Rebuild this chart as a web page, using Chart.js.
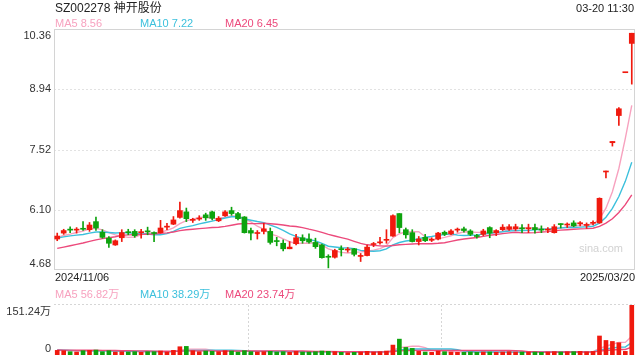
<!DOCTYPE html>
<html>
<head>
<meta charset="utf-8">
<script src="https://cdn.jsdelivr.net/npm/chart.js@4.4.1/dist/chart.umd.min.js"></script>
<style>
    body { margin: 0; background: #fff; }
    #wrap { position: relative; width: 640px; height: 360px; overflow: hidden;
            font-family: Arial, "Liberation Sans", "Noto Sans CJK SC", sans-serif; }
    #wrap canvas { position: absolute; left: 0; }
    .txt { position: absolute; white-space: nowrap; }
</style>
</head>
<body>
<div id="wrap">
    <canvas id="kline" width="640" height="290" style="top:0"></canvas>
    <canvas id="vol" width="640" height="70" style="top:290px"></canvas>

    <div class="txt" style="left:55px;top:1px;font-size:12px;line-height:14px;color:#222">SZ002278 神开股份</div>
    <div class="txt" style="right:6px;top:1px;font-size:11px;line-height:14px;color:#222">03-20 11:30</div>

    <div class="txt" style="left:55px;top:17px;font-size:11px;line-height:13px;color:#f7a2bf">MA5 8.56</div>
    <div class="txt" style="left:140px;top:17px;font-size:11px;line-height:13px;color:#3cc0dc">MA10 7.22</div>
    <div class="txt" style="left:225px;top:17px;font-size:11px;line-height:13px;color:#ec4a7c">MA20 6.45</div>

    <div class="txt" style="left:55px;top:288px;font-size:11px;line-height:13px;color:#f7a2bf">MA5 56.82万</div>
    <div class="txt" style="left:140px;top:288px;font-size:11px;line-height:13px;color:#3cc0dc">MA10 38.29万</div>
    <div class="txt" style="left:225px;top:288px;font-size:11px;line-height:13px;color:#ec4a7c">MA20 23.74万</div>
</div>
<script>
// trading days shown on the chart
const dates = [
    '2024/11/06','2024/11/07','2024/11/08','2024/11/11','2024/11/12','2024/11/13','2024/11/14','2024/11/15',
    '2024/11/18','2024/11/19','2024/11/20','2024/11/21','2024/11/22','2024/11/25','2024/11/26','2024/11/27',
    '2024/11/28','2024/11/29','2024/12/02','2024/12/03','2024/12/04','2024/12/05','2024/12/06','2024/12/09',
    '2024/12/10','2024/12/11','2024/12/12','2024/12/13','2024/12/16','2024/12/17','2024/12/18','2024/12/19',
    '2024/12/20','2024/12/23','2024/12/24','2024/12/25','2024/12/26','2024/12/27','2024/12/30','2024/12/31',
    '2025/01/02','2025/01/03','2025/01/06','2025/01/07','2025/01/08','2025/01/09','2025/01/10','2025/01/13',
    '2025/01/14','2025/01/15','2025/01/16','2025/01/17','2025/01/20','2025/01/21','2025/01/22','2025/01/23',
    '2025/01/24','2025/01/27','2025/02/05','2025/02/06','2025/02/07','2025/02/10','2025/02/11','2025/02/12',
    '2025/02/13','2025/02/14','2025/02/17','2025/02/18','2025/02/19','2025/02/20','2025/02/21','2025/02/24',
    '2025/02/25','2025/02/26','2025/02/27','2025/02/28','2025/03/03','2025/03/04','2025/03/05','2025/03/06',
    '2025/03/07','2025/03/10','2025/03/11','2025/03/12','2025/03/13','2025/03/14','2025/03/17','2025/03/18',
    '2025/03/19','2025/03/20'
];

const opens = [
    5.41,5.55,5.64,5.62,5.66,5.63,5.82,5.57,5.43,5.27, 5.44,5.58,5.59,5.56,5.60,5.56,5.56,5.69,5.76,5.92,
    6.05,5.85,5.88,5.98,6.05,5.84,5.96,6.08,6.01,5.93, 5.61,5.54,5.59,5.59,5.36,5.31,5.18,5.30,5.44,5.41,
    5.33,5.27,4.99,4.98,5.17,5.15,5.18,5.00,5.02,5.28, 5.32,5.38,5.48,6.01,5.63,5.56,5.35,5.45,5.38,5.41,
    5.57,5.53,5.62,5.65,5.60,5.49,5.52,5.68,5.56,5.63, 5.64,5.65,5.66,5.65,5.68,5.64,5.62,5.56,5.76,5.74,
    5.79,5.77,5.73,5.78,5.79,6.99,7.68,8.32,9.33,10.02
];
const highs = [
    5.55,5.64,5.70,5.68,5.82,5.80,5.93,5.63,5.47,5.39, 5.63,5.64,5.63,5.64,5.69,5.58,5.85,5.78,5.94,6.28,
    6.14,5.90,5.96,6.02,6.07,5.94,6.08,6.16,6.04,5.94, 5.67,5.61,5.78,5.67,5.45,5.39,5.35,5.52,5.51,5.53,
    5.43,5.29,5.04,5.17,5.25,5.21,5.19,5.07,5.27,5.33, 5.45,5.63,5.98,6.01,5.67,5.63,5.47,5.52,5.44,5.57,
    5.60,5.63,5.67,5.69,5.63,5.52,5.64,5.70,5.63,5.75, 5.75,5.76,5.75,5.76,5.76,5.72,5.68,5.75,5.77,5.79,
    5.84,5.82,5.79,5.84,6.38,7.01,7.71,8.51,9.33,10.26
];
const lows = [
    5.37,5.52,5.56,5.55,5.61,5.59,5.61,5.43,5.21,5.26, 5.35,5.51,5.45,5.43,5.51,5.35,5.55,5.63,5.75,5.90,
    5.82,5.80,5.85,5.85,5.86,5.82,5.94,5.97,5.86,5.55, 5.39,5.41,5.53,5.29,5.25,5.13,5.18,5.27,5.31,5.31,
    5.19,4.96,4.73,4.96,5.01,5.10,5.01,4.88,5.01,5.23, 5.29,5.31,5.47,5.56,5.43,5.34,5.27,5.35,5.35,5.39,
    5.49,5.51,5.57,5.57,5.49,5.43,5.49,5.44,5.49,5.61, 5.61,5.61,5.56,5.56,5.55,5.56,5.56,5.55,5.67,5.68,
    5.70,5.72,5.66,5.74,5.78,6.85,7.60,8.09,9.33,9.06
];
const closes = [
    5.48,5.61,5.62,5.63,5.64,5.74,5.67,5.45,5.31,5.37, 5.56,5.56,5.49,5.57,5.58,5.54,5.67,5.71,5.86,6.08,
    5.89,5.86,5.90,5.91,5.90,5.90,6.05,6.01,5.89,5.56, 5.55,5.55,5.65,5.33,5.35,5.18,5.22,5.44,5.37,5.34,
    5.23,4.97,4.98,5.14,5.16,5.16,5.05,5.02,5.22,5.29, 5.34,5.40,5.96,5.68,5.51,5.35,5.41,5.37,5.39,5.55,
    5.52,5.60,5.63,5.61,5.52,5.47,5.60,5.55,5.61,5.69, 5.70,5.70,5.65,5.66,5.63,5.62,5.63,5.70,5.75,5.76,
    5.72,5.78,5.74,5.79,6.37,7.01,7.71,8.48,9.33,10.26
];
// volume, in 万 shares
const volumes = [
    14,13,10,9,13,14,15,10,13,9, 10,9,10,8,10,10,12,9,14,25,
    26,13,10,12,11,10,13,12,9,13, 10,9,10,11,9,10,8,11,9,9,
    10,12,11,10,8,7,8,9,11,9, 10,12,30,48,23,20,11,9,8,12,
    10,9,8,8,9,8,9,9,8,9, 10,9,9,9,9,8,9,10,9,9.9,
    10,11,9.5,10.7,57.5,44,41,37,11,151.24
];
// closes / volumes of the 19 sessions before the window (feed the moving averages)
const preCloses = [5.02,4.98,4.96,5.00,4.97,4.98,4.88,4.86,4.90,4.95,5.30,5.38,5.45,5.50,5.42,5.40,5.46,5.43,5.48];
const preVolumes = [15,14,16,13,15,17,14,13,15,16,18,17,15,14,16,15,14,13,15];

const priceTicks = [4.68, 6.10, 7.52, 8.94, 10.36];

const UP = '#f0190e';
const DOWN = '#0ea30e';
const MA5_COLOR = '#f7a2bf';
const MA10_COLOR = '#3cc0dc';
const MA20_COLOR = '#ec4a7c';

function movingAvg(series, pre, n) {
    const all = pre.concat(series);
    return series.map((_, i) => {
        const end = pre.length + i + 1;
        return all.slice(end - n, end).reduce((s, v) => s + v, 0) / n;
    });
}

const candleColors = closes.map((c, i) => c >= opens[i] ? UP : DOWN);

function maLine(data, color, order) {
    return {
        type: 'line', data: data, borderColor: color, borderWidth: 1.4,
        pointRadius: 0, tension: 0, order: order
    };
}

const hiddenScales = (yMin, yMax) => ({
    x: { type: 'category', offset: true, display: false },
    y: { min: yMin, max: yMax, display: false }
});

// frame, dotted grid, watermark, axis labels of the price panel
const priceFrame = {
    id: 'priceFrame',
    beforeDatasetsDraw(chart) {
        const { ctx, chartArea: a, scales: { y } } = chart;
        ctx.save();
        ctx.strokeStyle = '#e2e2e2';
        ctx.lineWidth = 1;
        ctx.setLineDash([2, 2]);
        priceTicks.slice(1, -1).forEach(v => {
            const py = Math.round(y.getPixelForValue(v)) + 0.5;
            ctx.beginPath(); ctx.moveTo(a.left, py); ctx.lineTo(a.right, py); ctx.stroke();
        });
        ctx.setLineDash([]);
        ctx.strokeStyle = '#d4d4d4';
        ctx.strokeRect(a.left + 0.5, a.top + 0.5, a.right - a.left - 1, a.bottom - a.top - 1);

        ctx.fillStyle = '#d2d2d2';
        ctx.font = '11px Arial, "Liberation Sans"';
        ctx.textAlign = 'right';
        ctx.textBaseline = 'middle';
        ctx.fillText('sina.com', a.right - 12, 249);
        ctx.restore();
    },
    afterDraw(chart) {
        const { ctx, chartArea: a, scales: { y } } = chart;
        ctx.save();
        ctx.fillStyle = '#333';
        ctx.font = '11px Arial, "Liberation Sans"';
        ctx.textAlign = 'right';
        priceTicks.forEach((v, i) => {
            let py = y.getPixelForValue(v);
            if (i === 0) { ctx.textBaseline = 'bottom'; py -= 1; }
            else if (i === priceTicks.length - 1) { ctx.textBaseline = 'top'; py += 1; }
            else ctx.textBaseline = 'middle';
            ctx.fillText(v.toFixed(2), 51, py);
        });
        ctx.fillStyle = '#222';
        ctx.textBaseline = 'middle';
        ctx.textAlign = 'left';
        ctx.fillText(dates[0], a.left + 1, 278);
        ctx.textAlign = 'right';
        ctx.fillText(dates[dates.length - 1], a.right, 278);
        ctx.restore();
    }
};

const volFrame = {
    id: 'volFrame',
    beforeDatasetsDraw(chart) {
        const { ctx, chartArea: a } = chart;
        ctx.save();
        ctx.strokeStyle = '#d6d6d6';
        ctx.lineWidth = 1;
        ctx.setLineDash([2, 2]);
        ctx.beginPath(); ctx.moveTo(a.left, a.top - 0.5); ctx.lineTo(a.right, a.top - 0.5); ctx.stroke();
        [1, 2].forEach(k => {
            const px = Math.round(a.left + (a.right - a.left) * k / 3) + 0.5;
            ctx.beginPath(); ctx.moveTo(px, a.top); ctx.lineTo(px, a.bottom); ctx.stroke();
        });
        ctx.restore();
    },
    afterDraw(chart) {
        const { ctx, scales: { y } } = chart;
        const maxVol = Math.max(...volumes);
        ctx.save();
        ctx.fillStyle = '#333';
        ctx.font = '11px Arial, "Liberation Sans", "Noto Sans CJK SC"';
        ctx.textAlign = 'right';
        ctx.textBaseline = 'top';
        ctx.fillText(maxVol.toFixed(2) + '万', 51, y.getPixelForValue(maxVol) + 1);
        ctx.textBaseline = 'bottom';
        ctx.fillText('0', 51, y.getPixelForValue(0) - 1);
        ctx.restore();
    }
};

new Chart(document.getElementById('kline'), {
    type: 'bar',
    data: {
        labels: dates,
        datasets: [
            {
                data: opens.map((o, i) => [o, closes[i]]),
                backgroundColor: candleColors, borderWidth: 0,
                barThickness: 5, minBarLength: 1, grouped: false, order: 0
            },
            {
                data: lows.map((l, i) => [l, highs[i]]),
                backgroundColor: candleColors, borderWidth: 0,
                barThickness: 1, grouped: false, order: 1
            },
            maLine(movingAvg(closes, preCloses, 20), MA20_COLOR, 2),
            maLine(movingAvg(closes, preCloses, 10), MA10_COLOR, 3),
            maLine(movingAvg(closes, preCloses, 5), MA5_COLOR, 4)
        ]
    },
    options: {
        responsive: false, animation: false, devicePixelRatio: 1,
        layout: { padding: { left: 54, right: 5, top: 29, bottom: 20 } },
        plugins: { legend: { display: false }, tooltip: { enabled: false } },
        scales: hiddenScales(priceTicks[0], priceTicks[priceTicks.length - 1])
    },
    plugins: [priceFrame]
});

new Chart(document.getElementById('vol'), {
    type: 'bar',
    data: {
        labels: dates,
        datasets: [
            {
                data: volumes, backgroundColor: candleColors, borderWidth: 0,
                barThickness: 4, grouped: false, order: 0
            },
            maLine(movingAvg(volumes, preVolumes, 20), MA20_COLOR, 1),
            maLine(movingAvg(volumes, preVolumes, 10), MA10_COLOR, 2),
            maLine(movingAvg(volumes, preVolumes, 5), MA5_COLOR, 3)
        ]
    },
    options: {
        responsive: false, animation: false, devicePixelRatio: 1,
        layout: { padding: { left: 54, right: 5, top: 15, bottom: 5 } },
        plugins: { legend: { display: false }, tooltip: { enabled: false } },
        scales: hiddenScales(0, Math.max(...volumes))
    },
    plugins: [volFrame]
});
</script>
</body>
</html>
